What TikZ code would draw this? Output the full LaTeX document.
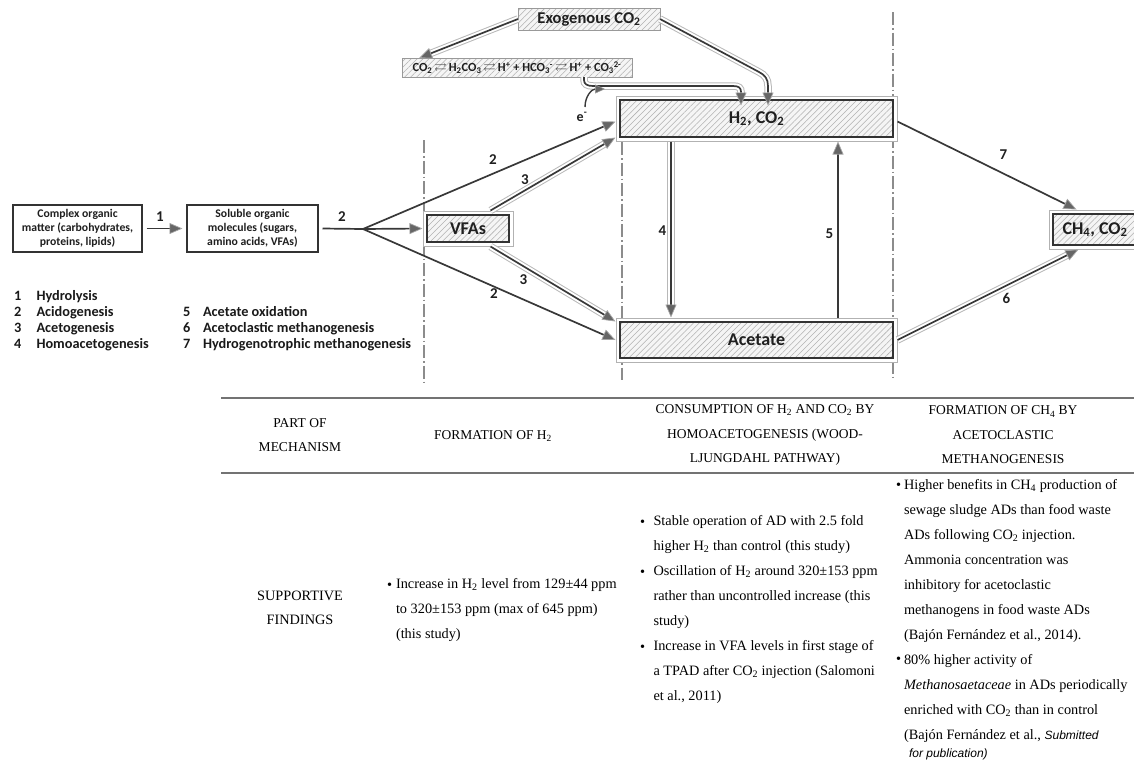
\documentclass[tikz,border=0pt]{standalone}
\usepackage{amssymb}
\usepackage{fontspec}
\setmainfont{Liberation Serif}
\newfontfamily\carl{Carlito}
\newfontfamily\asans{Liberation Sans}
\usetikzlibrary{patterns.meta,arrows.meta,calc}
\newcommand{\sbs}[1]{\textsubscript{#1}}
\newcommand{\sps}[1]{\textsuperscript{#1}}
\begin{document}
\begin{tikzpicture}[x=1pt,y=-1pt,
  every node/.style={inner sep=0pt, outer sep=0pt},
  hatch/.style={pattern={Lines[angle=45,distance=4.2pt,line width=0.55pt]}, pattern color=black!30},
  ln/.style={draw=black!78, line width=1.7pt},
  tip/.style={-{Triangle[length=13pt,width=11pt,color=black!35,fill=black!60,line width=0.7pt]}},
  stip/.style={-{Triangle[length=10pt,width=9pt,color=black!40,fill=black!60,line width=0.5pt]}},
  dbl/.style={draw=black!78, line width=1.7pt,
     preaction={draw=black!28, line width=7.5pt, arrows=-, shorten >=11pt},
     preaction={draw=white, line width=5.5pt, arrows=-, shorten >=11pt}},
  hbox/.style={draw=black!80, line width=1.5pt, hatch,
     preaction={draw=black!30, line width=9pt}, preaction={draw=white, line width=7pt},
     preaction={fill=black!4}, outer sep=4.5pt, text=black!88,
     font=\carl\bfseries\fontsize{18}{20}\selectfont},
  lbox/.style={draw=black!40, line width=1pt, hatch,
     preaction={fill=black!4}, text=black!88},
  wbox/.style={draw=black!80, line width=1.6pt, fill=white, align=center, outer sep=4.5pt,
     font=\carl\bfseries\fontsize{11.7}{14}\selectfont, text=black!88},
  num/.style={font=\carl\bfseries\fontsize{15}{17}\selectfont, text=black!88},
  leg/.style={font=\carl\bfseries\fontsize{14.3}{16}\selectfont, text=black!90, anchor=base west},
  sepl/.style={draw=black!45, line width=1.1pt, dash pattern=on 13pt off 3pt on 1.5pt off 3pt},
  tline/.style={draw=black!55, line width=2pt},
  hd/.style={font=\fontsize{13.5}{24.5}\selectfont, align=center},
  body/.style={font=\fontsize{14.3}{25}\selectfont, align=left, anchor=north west},
  bul/.style={font=\fontsize{14.3}{25}\selectfont, anchor=base west}
]
\useasboundingbox (0,0) rectangle (1134,761);

% dash-dot separators
\draw[sepl] (424,140) -- (424,385);
\draw[sepl] (622,142) -- (622,380);
\draw[sepl] (893,12) -- (893,380);

% boxes
\node[lbox, minimum width=142pt, minimum height=22pt, font=\carl\bfseries\fontsize{16.5}{18}\selectfont] (exo) at (589,19) {Exogenous CO\sbs{2}};
\node[lbox, minimum width=230pt, minimum height=19pt, font=\carl\bfseries\fontsize{12.4}{13}\selectfont] (eq) at (517,67.5)
  {CO\sbs{2}\,$\rightleftarrows$\,H\sbs{2}CO\sbs{3}\,$\rightleftarrows$\,H\sps{+} + HCO\sbs{3}\sps{-}\,$\rightleftarrows$\,H\sps{+} + CO\sbs{3}\sps{2-}};
\node[hbox, minimum width=273pt, minimum height=37pt] (h2) at (756.5,118.5) {H\sbs{2}, CO\sbs{2}};
\node[hbox, minimum width=273pt, minimum height=36pt] (ac) at (756.5,340) {Acetate};
\node[hbox, minimum width=82pt, minimum height=27pt] (vfa) at (468,228.5) {VFAs};
\node[hbox, minimum width=84pt, minimum height=31pt] (ch4) at (1095,229.5) {CH\sbs{4}, CO\sbs{2}};
\node[wbox, minimum width=129pt, minimum height=47pt] (com) at (77.5,228.5) {Complex organic\\matter (carbohydrates,\\proteins, lipids)};
\node[wbox, minimum width=131pt, minimum height=47pt] (sol) at (252.5,228.5) {Soluble organic\\molecules (sugars,\\amino acids, VFAs)};
\coordinate (br) at (363,229);

% connectors
\draw[ln,tip] (com) -- (sol);
\draw[ln] (sol.east) -- (br);
\draw[ln,tip] (br) -- (vfa.west);
\draw[ln,tip] (br) -- ($(h2.west)+(0,3)$);
\draw[ln,tip] (br) -- (ac.west);
\draw[dbl,tip] ($(vfa.north east)+(-23,0)$) -- ($(h2.south west)+(0,-4)$);
\draw[dbl,tip] ($(vfa.south east)+(-23,0)$) -- ($(ac.north west)+(0,4)$);
\draw[dbl,tip] ($(h2.south)+(-85.5,0)$) -- ($(ac.north)+(-85.5,0)$);
\draw[ln,tip] ($(ac.north)+(81.5,0)$) -- ($(h2.south)+(81.5,0)$);
\draw[ln,tip] ($(h2.east)+(0,3)$) -- ($(ch4.north west)+(28,0)$);
\draw[dbl,tip] (ac.east) -- ($(ch4.south west)+(30,0)$);
\draw[dbl,tip] (exo.west) -- ($(eq.north west)+(17,0)$);
\draw[dbl,tip] (exo.east) -- (759,72) .. controls (765,75) and (768,79) .. (768,86) -- ($(h2.north)+(11.5,10)$);
\draw[dbl,tip] (584,0 |- eq.south) -- (584,80) .. controls (584,84) and (587,86) .. (593,86) -- (733,86) .. controls (739,86) and (741,88) .. (741,92) -- ($(h2.north)+(-15.5,10)$);
\node[num, font=\carl\bfseries\fontsize{14}{16}\selectfont] (el) at (582,117) {e\sps{-}};
\draw[ln, line width=1.4pt, stip] (585,107) .. controls (585,96) and (592,89) .. (605,89);

% connector labels
\node[num] (n1) at (160,216.5) {1};
\node[num] (n2a) at (342,216.5) {2};
\node[num] (n2b) at (493,160) {2};
\node[num] (n3a) at (525,180) {3};
\node[num] (n3b) at (523.5,279.5) {3};
\node[num] (n2c) at (494,294) {2};
\node[num] (n4) at (662.5,230.5) {4};
\node[num] (n5) at (829.5,233.5) {5};
\node[num] (n7) at (1003.5,155) {7};
\node[num] (n6) at (1006.5,298.5) {6};

% legend
\node[leg] (k1) at (14,300) {1}; \node[leg] (t1) at (36.5,300) {Hydrolysis};
\node[leg] (k2) at (14,316) {2}; \node[leg] (t2) at (36.5,316) {Acidogenesis};
\node[leg] (k3) at (14,332) {3}; \node[leg] (t3) at (36.5,332) {Acetogenesis};
\node[leg] (k4) at (14,348) {4}; \node[leg] (t4) at (36.5,348) {Homoacetogenesis};
\node[leg] (k5) at (183,316) {5}; \node[leg] (t5) at (203,316) {Acetate oxidation};
\node[leg] (k6) at (183,332) {6}; \node[leg] (t6) at (203,332) {Acetoclastic methanogenesis};
\node[leg] (k7) at (183,348) {7}; \node[leg] (t7) at (203,348) {Hydrogenotrophic methanogenesis};

% table
\draw[tline] (221,398) -- (1134,398);
\draw[tline] (221,473) -- (1134,473);
\node[hd] (h1) at (300,435) {PART OF\\MECHANISM};
\node[hd] (h2t) at (493,436) {FORMATION OF H\sbs{2}};
\node[hd] (h3t) at (765,435) {CONSUMPTION OF H\sbs{2} AND CO\sbs{2} BY\\HOMOACETOGENESIS (WOOD-\\LJUNGDAHL PATHWAY)};
\node[hd] (h4t) at (1003,435) {FORMATION OF CH\sbs{4} BY\\ACETOCLASTIC\\METHANOGENESIS};
\node[hd, font=\fontsize{14.3}{24.5}\selectfont] (sf) at (300,608) {SUPPORTIVE\\FINDINGS};

\node[bul] (b21) at (387,589) {\textbullet};
\node[body] (c2) at (396,577) {\rule{0pt}{11pt}Increase in H\sbs{2} level from 129±44 ppm\\to 320±153 ppm (max of 645 ppm)\\(this study)};

\node[bul] (b31) at (640,526) {\textbullet};
\node[bul] (b32) at (640,576) {\textbullet};
\node[bul] (b33) at (640,651) {\textbullet};
\node[body] (c3) at (653.5,514.5) {\rule{0pt}{11pt}Stable operation of AD with 2.5 fold\\higher H\sbs{2} than control (this study)\\Oscillation of H\sbs{2} around 320±153 ppm\\rather than uncontrolled increase (this\\study)\\Increase in VFA levels in first stage of\\a TPAD after CO\sbs{2} injection (Salomoni\\et al., 2011)};

\node[bul] (b41) at (896,489) {\textbullet};
\node[bul] (b42) at (896,663) {\textbullet};
\node[body] (c4) at (904,478) {\rule{0pt}{11pt}Higher benefits in CH\sbs{4} production of\\sewage sludge ADs than food waste\\ADs following CO\sbs{2} injection.\\Ammonia concentration was\\inhibitory for acetoclastic\\methanogens in food waste ADs\\(Bajón Fernández et al., 2014).\\80\% higher activity of\\\textit{Methanosaetaceae} in ADs periodically\\enriched with CO\sbs{2} than in control\\(Bajón Fernández et al., {\asans\itshape\fontsize{12}{14}\selectfont Submitted}};
\node[anchor=base west, font=\asans\itshape\fontsize{12}{14}\selectfont] (c4b) at (909,757) {for publication)};
\end{tikzpicture}
\end{document}
